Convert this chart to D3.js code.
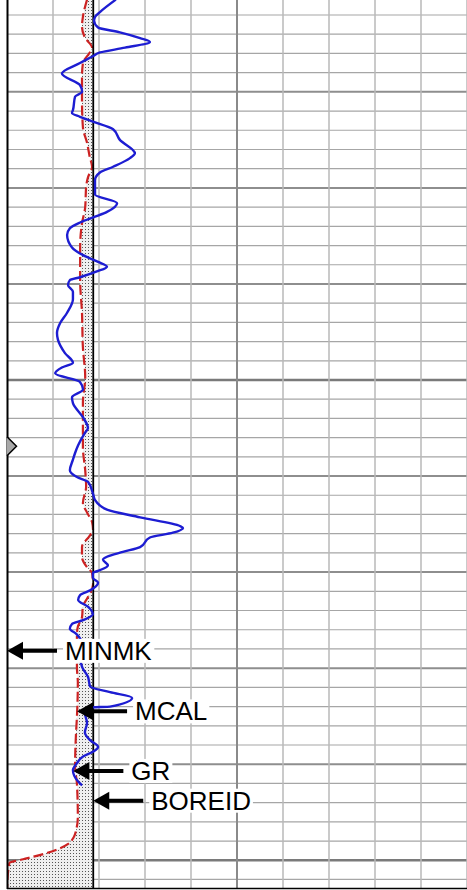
<!DOCTYPE html>
<html>
<head>
<meta charset="utf-8">
<script src="https://cdnjs.cloudflare.com/ajax/libs/d3/7.8.5/d3.min.js"></script>
<style>
  body { margin: 0; background: #fff; }
  svg { display: block; }
</style>
</head>
<body>
<div class="svg"></div>
<script>
// depth in ft, GR in API (0-150), caliper and bit size in inches (6-16)
var grDepth = [4960.4, 4961.7, 4962.2, 4962.6, 4963.3, 4963.8, 4964.4, 4964.8, 4965.4, 4965.9,
  4966.3, 4967.0, 4968.1, 4969.3, 4970.0, 4970.5, 4971.9, 4972.2, 4972.6, 4973.1,
  4973.9, 4975.0, 4976.4, 4976.9, 4977.8, 4978.4, 4979.2, 4980.7, 4981.6, 4982.5,
  4983.0, 4983.6, 4984.2, 4984.9, 4986.2, 4987.0, 4987.7, 4988.2, 4988.7, 4989.3,
  4989.6, 4990.1, 4990.8, 4991.6, 4993.0, 4994.1, 4995.1, 4995.8, 4997.2, 4998.2,
  4998.7, 4999.3, 5000.2, 5001.0, 5001.8, 5002.4, 5003.9, 5005.0, 5005.5, 5006.8,
  5007.6, 5008.3, 5009.4, 5010.1, 5010.6, 5011.8, 5012.5, 5013.5, 5014.3, 5015.2,
  5015.4, 5015.9, 5016.4, 5017.4, 5017.9, 5018.4, 5018.7, 5019.3, 5019.8, 5020.1,
  5020.6, 5021.1, 5021.9, 5022.4, 5022.9, 5023.6, 5024.4, 5025.0, 5025.4, 5025.9,
  5026.4, 5027.6, 5028.7, 5029.9, 5030.9, 5031.9, 5032.5, 5033.1, 5034.0, 5034.1,
  5034.7, 5035.7, 5036.7, 5037.5, 5038.2, 5038.7, 5039.2, 5039.9, 5040.6, 5041.8, 5042.2];
var grValue = [35.5, 30.3, 28.7, 28.4, 29.7, 36.8, 43.4, 46.6, 38.5, 30.3,
  28.0, 23.8, 17.9, 23.8, 24.5, 22.2, 21.5, 21.2, 23.8, 28.0,
  34.6, 36.8, 41.7, 40.1, 34.6, 30.3, 28.7, 28.7, 35.9, 32.6,
  28.7, 23.8, 20.5, 19.6, 21.2, 24.8, 29.7, 32.6, 29.3, 23.8,
  20.5, 19.9, 21.5, 21.5, 19.6, 17.3, 16.3, 16.6, 18.9, 21.5,
  17.9, 15.7, 23.8, 24.8, 21.2, 21.5, 24.8, 26.4, 25.4, 23.2,
  22.2, 21.5, 20.5, 22.8, 26.4, 28.0, 28.7, 32.6, 43.4, 56.4,
  57.4, 54.1, 46.6, 43.4, 37.8, 32.6, 31.3, 32.9, 30.3, 28.0,
  28.0, 29.7, 27.1, 23.8, 23.2, 26.4, 28.0, 24.8, 21.2, 20.5,
  22.5, 24.5, 23.8, 24.5, 26.4, 27.1, 33.6, 40.8, 33.6, 27.1,
  25.4, 26.1, 25.4, 27.1, 29.7, 28.0, 24.8, 22.8, 21.5, 23.2, 24.5];

var calDepth = [4960.4, 4962.2, 4963.2, 4964.4, 4965.4, 4965.9, 4967.0, 4968.5, 4970.9, 4973.7,
  4975.3, 4976.8, 4977.8, 4978.9, 4979.9, 4982.0, 4983.7, 4986.2, 4989.6, 4993.0,
  4996.6, 4999.7, 5002.4, 5004.9, 5007.0, 5009.4, 5011.1, 5012.8, 5013.8, 5014.8,
  5015.6, 5016.2, 5017.4, 5018.4, 5019.5, 5020.1, 5021.3, 5022.6, 5023.6, 5024.7,
  5025.7, 5026.5, 5029.9, 5031.5, 5035.1, 5036.8, 5040.3, 5042.0, 5045.5, 5046.7,
  5047.6, 5048.3, 5048.8, 5049.2, 5049.6, 5049.9, 5050.3, 5053.0];
var calValue = [7.74, 7.65, 7.63, 7.70, 7.85, 7.80, 7.65, 7.63, 7.63, 7.65,
  7.74, 7.80, 7.85, 7.76, 7.72, 7.70, 7.63, 7.59, 7.59, 7.63,
  7.65, 7.70, 7.65, 7.65, 7.65, 7.70, 7.72, 7.65, 7.74, 7.85,
  7.87, 7.80, 7.63, 7.63, 7.74, 7.85, 7.87, 7.76, 7.65, 7.63,
  7.54, 7.52, 7.52, 7.54, 7.52, 7.50, 7.48, 7.52, 7.54, 7.51,
  7.45, 7.33, 7.13, 6.90, 6.60, 6.35, 6.05, 6.00];

var bitSize = 7.875;
var minmkValue = 6;
var markerDepth = 5006.9;
var labelNames = ['MINMK', 'MCAL', 'GR', 'BOREID'];
var labelDepths = [5028.2, 5034.5, 5040.7, 5043.8];

function LogTrack(settings) {
  Object.assign(this, LogTrack.defaults, settings);
  this.y = d3.scaleLinear().domain([5000, 5050]).range([380, 860.25]);
  this.xCal = d3.scaleLinear().domain([6, 16]).range([7, 467]);
  this.xGR = d3.scaleLinear().domain([0, 150]).range([7, 467]);
  this.appendSvg('div.svg');
  this.drawGrid();
  this.drawFill();
  this.drawCurves();
  this.drawFrame();
  this.drawLabels();
}

LogTrack.defaults = {
  'svg_width': 467,
  'svg_height': 890,
  'top': 4960,
  'bottom': 5053
};

LogTrack.prototype.appendSvg = function (selector) {
  this.svg = d3.select(selector || 'body')
    .append('svg')
    .attr('width', this.svg_width)
    .attr('height', this.svg_height);
  var defs = this.svg.append('defs');
  var pat = defs.append('pattern')
    .attr('id', 'stipple')
    .attr('width', 3).attr('height', 3)
    .attr('patternUnits', 'userSpaceOnUse');
  pat.append('rect').attr('width', 3).attr('height', 3).attr('fill', '#efefef');
  pat.append('rect').attr('x', 1).attr('y', 1).attr('width', 1).attr('height', 1).attr('fill', '#555');
  defs.append('clipPath').attr('id', 'plot')
    .append('rect').attr('x', 7).attr('y', 0).attr('width', 460).attr('height', 888.5);
};

LogTrack.prototype.drawGrid = function () {
  var y = this.y, x = this.xCal;
  var g = this.svg.append('g');
  g.selectAll('line.h')
    .data(d3.range(this.top, this.bottom + 1, 2))
    .enter().append('line')
    .attr('x1', 7).attr('x2', 467)
    .attr('y1', function (d) { return y(d); })
    .attr('y2', function (d) { return y(d); })
    .attr('stroke', function (d) { return d % 50 === 0 ? '#7a7a7a' : (d % 10 === 0 ? '#8e8e8e' : '#a6a6a6'); })
    .attr('stroke-width', function (d) { return d % 50 === 0 ? 2.6 : (d % 10 === 0 ? 2 : 1.2); });
  g.selectAll('line.v')
    .data(d3.range(7, 16.01, 1))
    .enter().append('line')
    .attr('y1', 0).attr('y2', 889)
    .attr('x1', function (d) { return x(d); })
    .attr('x2', function (d) { return x(d); })
    .attr('stroke', function (d) { return d === 11 ? '#8a8a8a' : '#b8b8b8'; })
    .attr('stroke-width', function (d) { return d === 11 ? 2 : 1.5; });
};

LogTrack.prototype.drawFill = function () {
  var y = this.y, x = this.xCal;
  var pts = d3.zip(calDepth, calValue);
  var area = d3.area()
    .curve(d3.curveMonotoneY)
    .y(function (d) { return y(d[0]); })
    .x0(function (d) { return x(d[1]); })
    .x1(x(bitSize));
  this.svg.append('path')
    .datum(pts)
    .attr('clip-path', 'url(#plot)')
    .attr('d', area)
    .attr('fill', 'url(#stipple)');
};

LogTrack.prototype.drawCurves = function () {
  var y = this.y, xc = this.xCal, xg = this.xGR;
  var g = this.svg.append('g').attr('clip-path', 'url(#plot)');
  var calLine = d3.line()
    .curve(d3.curveMonotoneY)
    .y(function (d) { return y(d[0]); })
    .x(function (d) { return xc(d[1]); });
  g.append('path')
    .datum(d3.zip(calDepth, calValue))
    .attr('d', calLine)
    .attr('fill', 'none')
    .attr('stroke', '#cc2222')
    .attr('stroke-width', 2.2)
    .attr('stroke-dasharray', '10,4');
  // bit size line
  g.append('line')
    .attr('x1', xc(bitSize)).attr('x2', xc(bitSize))
    .attr('y1', 0).attr('y2', 889)
    .attr('stroke', '#000')
    .attr('stroke-width', 1.8);
  var grLine = d3.line()
    .curve(d3.curveMonotoneY)
    .y(function (d) { return y(d[0]); })
    .x(function (d) { return xg(d[1]); });
  g.append('path')
    .datum(d3.zip(grDepth, grValue))
    .attr('d', grLine)
    .attr('fill', 'none')
    .attr('stroke', '#1d1dd2')
    .attr('stroke-width', 2.4);
};

LogTrack.prototype.drawFrame = function () {
  var y = this.y, x = this.xCal;
  this.svg.append('line')
    .attr('x1', 7.5).attr('x2', 7.5).attr('y1', 0).attr('y2', 889)
    .attr('stroke', '#000').attr('stroke-width', 2);
  this.svg.append('line')
    .attr('x1', 7).attr('x2', 467).attr('y1', 888.5).attr('y2', 888.5)
    .attr('stroke', '#000').attr('stroke-width', 1.5);
  var my = y(markerDepth);
  this.svg.append('path')
    .attr('d', 'M' + x(6) + ',' + (my - 9.5) + 'L' + (x(6) + 9.5) + ',' + my + 'L' + x(6) + ',' + (my + 9.5))
    .attr('fill', '#a8a8a8')
    .attr('stroke', '#000')
    .attr('stroke-width', 1.5);
};

LogTrack.prototype.drawLabels = function () {
  var y = this.y, xc = this.xCal, xg = this.xGR;
  function valueAt(depths, values, d) {
    var i = d3.bisectLeft(depths, d);
    if (i <= 0) return values[0];
    if (i >= depths.length) return values[values.length - 1];
    var t = (d - depths[i - 1]) / (depths[i] - depths[i - 1]);
    return values[i - 1] + t * (values[i] - values[i - 1]);
  }
  var tips = [
    xc(minmkValue),
    xc(valueAt(calDepth, calValue, labelDepths[1])),
    xg(valueAt(grDepth, grValue, labelDepths[2])),
    xc(bitSize)
  ];
  var _self = this;
  labelNames.forEach(function (name, i) {
    var ly = y(labelDepths[i]);
    var tip = tips[i];
    var g = _self.svg.append('g');
    var bg = g.append('rect').attr('fill', '#fff');
    var txt = g.append('text')
      .attr('x', tip + 58)
      .attr('y', ly)
      .attr('dy', '0.35em')
      .attr('font-family', '"Liberation Sans", Arial, sans-serif')
      .attr('font-size', '26px')
      .attr('fill', '#000')
      .text(name);
    var bb = txt.node().getBBox();
    bg.attr('x', bb.x - 2).attr('y', ly - 12).attr('width', bb.width + 4).attr('height', 24);
    g.append('line')
      .attr('x1', tip + 14).attr('x2', tip + 50)
      .attr('y1', ly).attr('y2', ly)
      .attr('stroke', '#000').attr('stroke-width', 4);
    g.append('path')
      .attr('d', 'M' + tip + ',' + ly + 'L' + (tip + 16) + ',' + (ly - 9) + 'L' + (tip + 16) + ',' + (ly + 9) + 'Z')
      .attr('fill', '#000');
  });
};

var track = new LogTrack({});
</script>
</body>
</html>
